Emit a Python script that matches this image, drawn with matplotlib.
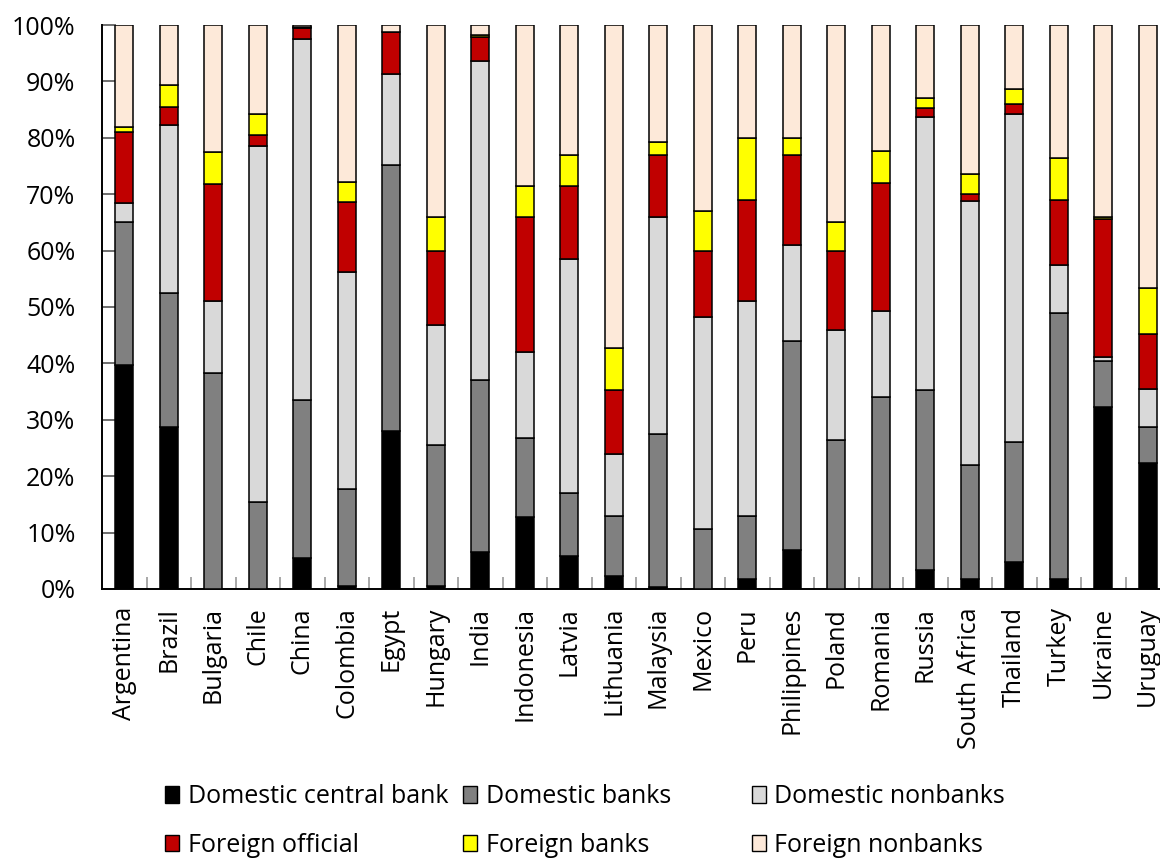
import matplotlib
matplotlib.use("Agg")
import matplotlib.pyplot as plt
from matplotlib.patches import Patch
from matplotlib.ticker import FixedLocator, PercentFormatter
import numpy as np

countries = ["Argentina", "Brazil", "Bulgaria", "Chile", "China", "Colombia", "Egypt",
             "Hungary", "India", "Indonesia", "Latvia", "Lithuania", "Malaysia", "Mexico",
             "Peru", "Philippines", "Poland", "Romania", "Russia", "South Africa",
             "Thailand", "Turkey", "Ukraine", "Uruguay"]

# Holder shares of government debt, percent of total
domestic_central_bank = [39.7, 28.7, 0.0, 0.0, 5.5, 0.5, 28.0, 0.5, 6.5, 12.7, 5.8, 2.3,
                         0.3, 0.0, 1.7, 7.0, 0.0, 0.0, 3.3, 1.7, 4.7, 1.8, 32.2, 22.3]
domestic_banks = [25.3, 23.8, 38.3, 15.5, 28.0, 17.2, 47.2, 25.0, 30.5, 14.0, 11.2, 10.7,
                  27.2, 10.7, 11.2, 37.0, 26.5, 34.0, 32.0, 20.3, 21.3, 47.2, 8.3, 6.4]
domestic_nonbanks = [3.5, 29.8, 12.7, 63.0, 64.0, 38.5, 16.1, 21.3, 56.7, 15.3, 41.5, 11.0,
                     38.5, 37.6, 38.1, 17.0, 19.5, 15.3, 48.4, 46.8, 58.2, 8.5, 0.7, 6.8]
foreign_official = [12.5, 3.2, 20.8, 2.0, 2.0, 12.5, 7.4, 13.2, 4.2, 24.0, 13.0, 11.2,
                    11.0, 11.7, 18.0, 16.0, 14.0, 22.7, 1.5, 1.2, 1.8, 11.5, 24.4, 9.7]
foreign_banks = [1.0, 3.8, 5.7, 3.8, 0.2, 3.5, 0.0, 6.0, 0.4, 5.5, 5.5, 7.5,
                 2.2, 7.0, 11.0, 3.0, 5.0, 5.7, 1.8, 3.5, 2.7, 7.5, 0.4, 8.1]
foreign_nonbanks = [18.0, 10.7, 22.5, 15.7, 0.3, 27.8, 1.3, 34.0, 1.7, 28.5, 23.0, 57.3,
                    20.8, 33.0, 20.0, 20.0, 35.0, 22.3, 13.0, 26.5, 11.3, 23.5, 34.0, 46.7]

series_names = ["Domestic central bank", "Domestic banks", "Domestic nonbanks",
                "Foreign official", "Foreign banks", "Foreign nonbanks"]
series_values = [domestic_central_bank, domestic_banks, domestic_nonbanks,
                 foreign_official, foreign_banks, foreign_nonbanks]
series_colors = ["#000000", "#808080", "#D9D9D9", "#C00000", "#FFFF00", "#FDE9D9"]

plt.rcParams["font.family"] = ["Open Sans", "DejaVu Sans"]
FS = 18

fig = plt.figure(figsize=(11.6, 8.58), dpi=100)
ax = fig.add_axes([102 / 1160, 269 / 858, 1068 / 1160, 564 / 858])

x = np.arange(len(countries))
bottom = np.zeros(len(countries))
handles = []
for name, vals, col in zip(series_names, series_values, series_colors):
    v = np.array(vals)
    ax.bar(x, v, bottom=bottom, width=0.4, color=col, edgecolor="black",
           linewidth=1.1, label=name, zorder=3)
    bottom += v
    handles.append(Patch(facecolor=col, edgecolor="black", linewidth=1.0, label=name))

ax.set_xlim(-0.5, len(countries) - 0.5)
ax.set_ylim(0, 100)
ax.yaxis.set_major_locator(FixedLocator(np.arange(0, 101, 10)))
ax.yaxis.set_major_formatter(PercentFormatter(decimals=0))
ax.tick_params(axis="y", direction="in", length=10, width=1.2, color="#555555",
               labelsize=FS, pad=19)

ax.set_xticks(x)
ax.set_xticklabels(countries, rotation=90, fontsize=FS)
ax.tick_params(axis="x", which="major", length=0, pad=13)
ax.set_xticks(np.arange(0.5, len(countries) - 0.5, 1.0), minor=True)
ax.tick_params(axis="x", which="minor", direction="in", length=9, width=1.2,
               color="#999999")

for s in ["top", "right"]:
    ax.spines[s].set_visible(False)
ax.spines["left"].set_linewidth(1.4)
ax.spines["bottom"].set_linewidth(1.4)

# Legend laid out in three columns, each column its own block
col_x = [165 / 1160, 463 / 1160, 752 / 1160]
for i, cx in enumerate(col_x):
    fig.legend(handles=[handles[i], handles[i + 3]], loc="upper left",
               bbox_to_anchor=(cx, 1 - 784 / 858), frameon=False,
               fontsize=FS, handlelength=0.55, handleheight=0.65,
               handletextpad=0.35, labelspacing=0.95, borderpad=0,
               borderaxespad=0)

fig.savefig("out.png", dpi=100)
